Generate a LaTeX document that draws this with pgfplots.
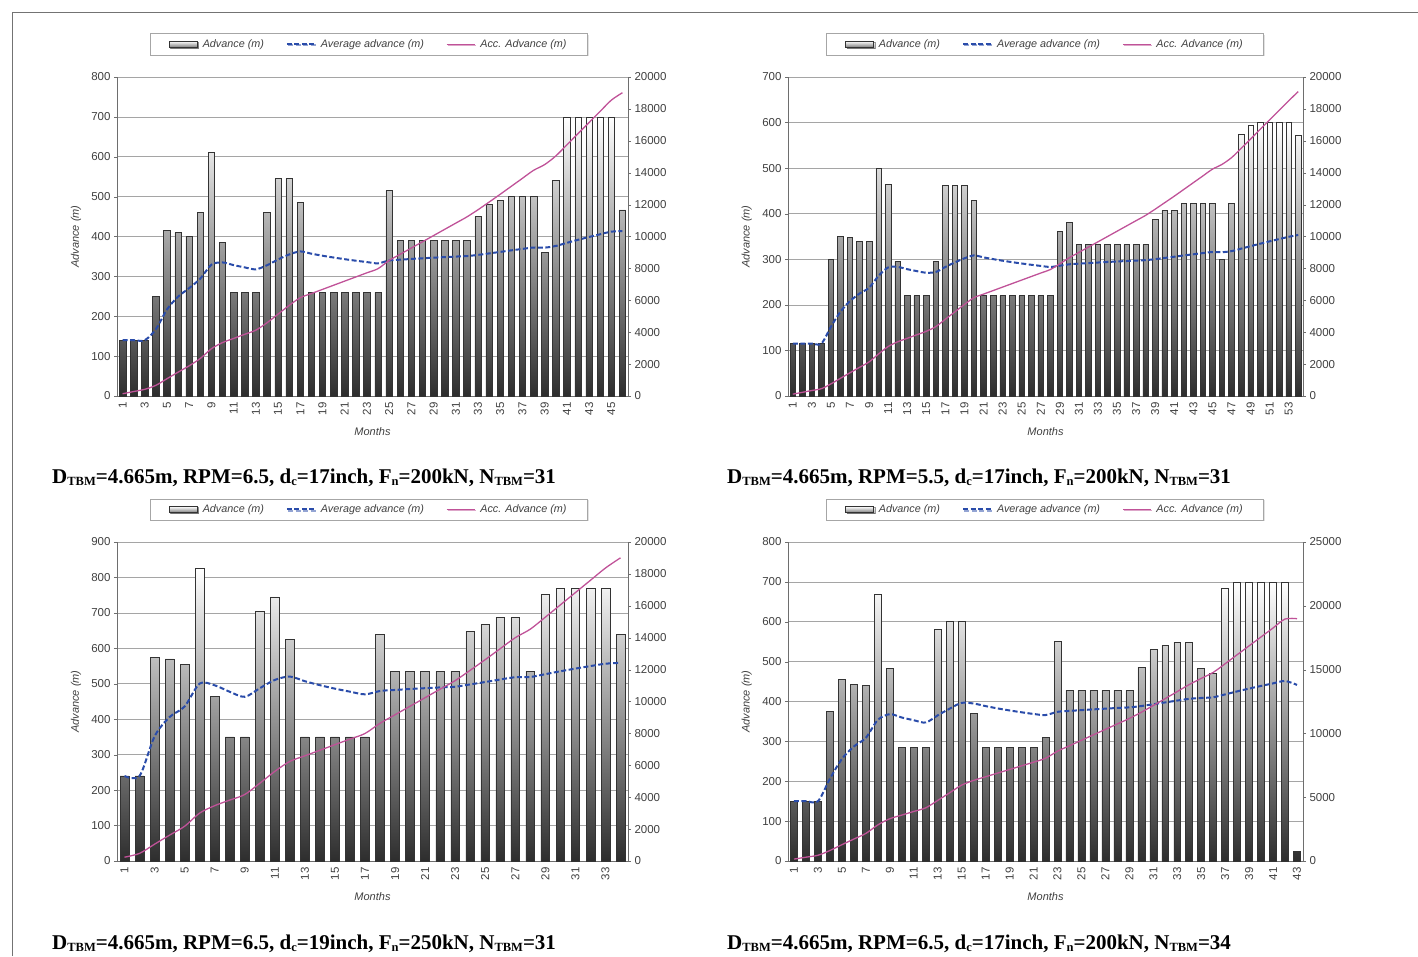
\documentclass[border=0pt]{standalone}
\usepackage{fontspec}
\setmainfont{Liberation Sans}
\newfontfamily\capserif{Liberation Serif}
\usepackage{pgfplots}
\pgfplotsset{compat=1.18}
\usepackage{pgfplotstable}
\usetikzlibrary{shadows}

\definecolor{avgblue}{RGB}{42,76,170}
\definecolor{accpink}{RGB}{192,82,152}
\definecolor{bardark}{RGB}{45,45,45}
\definecolor{gridgray}{RGB}{165,165,165}
\definecolor{axgray}{RGB}{110,110,110}

\newcommand{\sub}[1]{\raisebox{-0.3ex}{\fontsize{12.5}{12.5}\selectfont #1}}
\newcommand{\tickfont}{\fontsize{11.5}{13}\selectfont}

\pgfplotstableread{
m adv acc avg
1 140 140 140
2 140 280 140
3 140 420 140
4 250 670 167.5
5 415 1085 217
6 410 1495 249.2
7 400 1895 270.7
8 460 2355 294.4
9 610 2965 329.4
10 385 3350 335
11 260 3610 328.2
12 260 3870 322.5
13 260 4130 317.7
14 460 4590 327.9
15 545 5135 342.3
16 545 5680 355
17 485 6165 362.6
18 260 6425 356.9
19 260 6685 351.8
20 260 6945 347.3
21 260 7205 343.1
22 260 7465 339.3
23 260 7725 335.9
24 260 7985 332.7
25 515 8500 340
26 390 8890 341.9
27 390 9280 343.7
28 390 9670 345.4
29 390 10060 346.9
30 390 10450 348.3
31 390 10840 349.7
32 390 11230 350.9
33 450 11680 353.9
34 480 12160 357.6
35 490 12650 361.4
36 500 13150 365.3
37 500 13650 368.9
38 500 14150 372.4
39 360 14510 372.1
40 540 15050 376.3
41 700 15750 384.1
42 700 16450 391.7
43 700 17150 398.8
44 700 17850 405.7
45 700 18550 412.2
46 467 19017 413.4
}\tA

\pgfplotstableread{
m adv acc avg
1 115 115 115
2 115 230 115
3 115 345 115
4 115 460 115
5 300 760 152
6 350 1110 185
7 348 1458 208.3
8 340 1798 224.8
9 340 2138 237.6
10 500 2638 263.8
11 465 3103 282.1
12 295 3398 283.2
13 220 3618 278.3
14 220 3838 274.1
15 220 4058 270.5
16 295 4353 272.1
17 462 4815 283.2
18 462 5277 293.2
19 462 5739 302.1
20 430 6169 308.5
21 220 6389 304.2
22 220 6609 300.4
23 220 6829 296.9
24 220 7049 293.7
25 220 7269 290.8
26 220 7489 288.0
27 220 7709 285.5
28 220 7929 283.2
29 361 8290 285.9
30 381 8671 289.0
31 332 9003 290.4
32 332 9335 291.7
33 332 9667 292.9
34 332 9999 294.1
35 332 10331 295.2
36 332 10663 296.2
37 332 10995 297.2
38 332 11327 298.1
39 387 11714 300.4
40 407 12121 303.0
41 407 12528 305.6
42 423 12951 308.4
43 423 13374 311.0
44 423 13797 313.6
45 423 14220 316.0
46 299 14519 315.6
47 422 14941 317.9
48 575 15516 323.3
49 595 16111 328.8
50 600 16711 334.2
51 600 17311 339.4
52 600 17911 344.4
53 600 18511 349.3
54 573 19084 353.4
}\tB

\pgfplotstableread{
m adv acc avg
1 240 240 240
2 240 480 240
3 575 1055 351.7
4 570 1625 406.3
5 555 2180 436
6 825 3005 500.8
7 465 3470 495.7
8 350 3820 477.5
9 350 4170 463.3
10 705 4875 487.5
11 745 5620 510.9
12 625 6245 520.4
13 350 6595 507.3
14 350 6945 496.1
15 350 7295 486.3
16 350 7645 477.8
17 350 7995 470.3
18 640 8635 479.7
19 535 9170 482.6
20 535 9705 485.3
21 535 10240 487.6
22 535 10775 489.8
23 535 11310 491.7
24 648 11958 498.3
25 668 12626 505.0
26 688 13314 512.1
27 688 14002 518.6
28 535 14537 519.2
29 752 15289 527.2
30 770 16059 535.3
31 770 16829 542.9
32 770 17599 550.0
33 770 18369 556.6
34 640 19009 559.1
}\tC

\pgfplotstableread{
m adv acc avg
1 150 150 150
2 150 300 150
3 150 450 150
4 375 825 206.3
5 455 1280 256
6 443 1723 287.2
7 440 2163 309
8 668 2831 353.9
9 483 3314 368.2
10 285 3599 359.9
11 285 3884 353.1
12 285 4169 347.4
13 580 4749 365.3
14 600 5349 382.1
15 600 5949 396.6
16 370 6319 394.9
17 285 6604 388.5
18 285 6889 382.7
19 285 7174 377.6
20 285 7459 373.0
21 285 7744 368.8
22 310 8054 366.1
23 551 8605 374.1
24 428 9033 376.4
25 428 9461 378.4
26 428 9889 380.3
27 428 10317 382.1
28 428 10745 383.8
29 428 11173 385.3
30 486 11659 388.6
31 530 12189 393.2
32 541 12730 397.8
33 549 13279 402.4
34 549 13828 406.7
35 483 14311 408.9
36 470 14781 410.6
37 683 15464 417.9
38 700 16164 425.4
39 700 16864 432.4
40 700 17564 439.1
41 700 18264 445.5
42 700 18964 451.5
43 25 18989 441.6
}\tD

\pgfplotsset{
  leftpanel/.style={
    scale only axis, height=319pt,
    axis y line*=left, axis x line*=bottom,
    axis line style={axgray, line width=0.8pt},
    ymin=0, ytick distance=100,
    ymajorgrids, grid style={gridgray, line width=0.7pt},
    enlargelimits=false,
    tick align=outside, major tick length=3pt,
    ytick style={axgray}, xtick style={draw=none},
    tick label style={font=\tickfont, text=black!75},
    /pgf/number format/assume math mode=true,
    /pgf/number format/1000 sep={},
    xticklabel style={rotate=90, anchor=east},
    ylabel={Advance (m)}, xlabel={Months},
    label style={font=\fontsize{11}{13}\selectfont\itshape, text=black!75},
    ylabel style={at={(axis description cs:-0.08,0.5)}, anchor=center},
    xlabel style={at={(axis description cs:0.5,0)}, yshift=-36pt, anchor=center},
    legend columns=3,
    legend style={anchor=center, draw=gray!70, line width=0.6pt, fill=white,
      font=\fontsize{10.8}{12}\selectfont\itshape, text=black!75,
      inner xsep=19pt, inner ysep=4pt,
      /tikz/every odd column/.append style={column sep=3pt},
      /tikz/every even column/.append style={column sep=20pt},
      drop shadow={shadow xshift=1.2pt, shadow yshift=-1.2pt, fill=gray!45}},
    legend image code/.code={\draw[##1] (0pt,0pt) -- (28pt,0pt);},
  },
  rightpanel/.style={
    scale only axis, height=319pt,
    axis y line*=right, axis x line=none,
    axis line style={axgray, line width=0.8pt},
    ymin=0, enlargelimits=false, scaled y ticks=false,
    tick align=outside, major tick length=3pt, ytick style={axgray},
    tick label style={font=\tickfont, text=black!75},
    /pgf/number format/assume math mode=true,
    /pgf/number format/1000 sep={},
  },
  bars/.style={ybar, bar width=0.58, draw=black!80, line width=0.55pt,
    top color=white, bottom color=bardark,
    legend image code/.code={\draw[draw=black!80, line width=0.5pt, top color=white, bottom color=gray] (0pt,-3pt) rectangle (28pt,3pt);}},
  avgline/.style={avgblue, line width=2pt, dash pattern=on 5pt off 2.5pt, smooth},
  accline/.style={accpink, line width=1.3pt, smooth},
}

\begin{document}
\begin{tikzpicture}
\path[use as bounding box] (0pt,0pt) rectangle (1418pt,-956pt);
\draw[black!55, line width=0.8pt] (12pt,-956pt) -- (12pt,-12pt) -- (1418pt,-12pt);

% ---------- Panel 1 ----------
\begin{axis}[leftpanel, width=511pt, at={(117pt,-396pt)}, anchor=south west,
  xmin=0.5, xmax=46.5, ymax=800, xtick={1,3,...,45},
  legend style={at={(0.493,1.103)}}]
\addplot[bars] table[x=m,y=adv]{\tA}; \addlegendentry{Advance (m)}
\addplot[avgline] table[x=m,y=avg]{\tA}; \addlegendentry{Average advance (m)}
\addlegendimage{accline}\addlegendentry{Acc. Advance (m)}
\end{axis}
\begin{axis}[rightpanel, width=511pt, at={(117pt,-396pt)}, anchor=south west,
  xmin=0.5, xmax=46.5, ymax=20000, ytick distance=2000]
\addplot[accline] table[x=m,y=acc]{\tA};
\end{axis}

% ---------- Panel 2 ----------
\begin{axis}[leftpanel, width=515pt, at={(788pt,-396pt)}, anchor=south west,
  xmin=0.5, xmax=54.5, ymax=700, xtick={1,3,...,53},
  legend style={at={(0.499,1.103)}}]
\addplot[bars] table[x=m,y=adv]{\tB}; \addlegendentry{Advance (m)}
\addplot[avgline] table[x=m,y=avg]{\tB}; \addlegendentry{Average advance (m)}
\addlegendimage{accline}\addlegendentry{Acc. Advance (m)}
\end{axis}
\begin{axis}[rightpanel, width=515pt, at={(788pt,-396pt)}, anchor=south west,
  xmin=0.5, xmax=54.5, ymax=20000, ytick distance=2000]
\addplot[accline] table[x=m,y=acc]{\tB};
\end{axis}

% ---------- Panel 3 ----------
\begin{axis}[leftpanel, width=511pt, at={(117pt,-861pt)}, anchor=south west,
  xmin=0.5, xmax=34.5, ymax=900, xtick={1,3,...,33},
  legend style={at={(0.493,1.102)}}]
\addplot[bars] table[x=m,y=adv]{\tC}; \addlegendentry{Advance (m)}
\addplot[avgline] table[x=m,y=avg]{\tC}; \addlegendentry{Average advance (m)}
\addlegendimage{accline}\addlegendentry{Acc. Advance (m)}
\end{axis}
\begin{axis}[rightpanel, width=511pt, at={(117pt,-861pt)}, anchor=south west,
  xmin=0.5, xmax=34.5, ymax=20000, ytick distance=2000]
\addplot[accline] table[x=m,y=acc]{\tC};
\end{axis}

% ---------- Panel 4 ----------
\begin{axis}[leftpanel, width=515pt, at={(788pt,-861pt)}, anchor=south west,
  xmin=0.5, xmax=43.5, ymax=800, xtick={1,3,...,43},
  legend style={at={(0.499,1.102)}}]
\addplot[bars] table[x=m,y=adv]{\tD}; \addlegendentry{Advance (m)}
\addplot[avgline] table[x=m,y=avg]{\tD}; \addlegendentry{Average advance (m)}
\addlegendimage{accline}\addlegendentry{Acc. Advance (m)}
\end{axis}
\begin{axis}[rightpanel, width=515pt, at={(788pt,-861pt)}, anchor=south west,
  xmin=0.5, xmax=43.5, ymax=25000, ytick distance=5000]
\addplot[accline] table[x=m,y=acc]{\tD};
\end{axis}

% ---------- Captions ----------
\begin{scope}[every node/.style={anchor=base west, inner sep=0pt, font=\capserif\bfseries\fontsize{21}{23}\selectfont}]
\node at (52pt,-483pt) {D\sub{TBM}=4.665m, RPM=6.5, d\sub{c}=17inch, F\sub{n}=200kN, N\sub{TBM}=31};
\node at (727pt,-483pt) {D\sub{TBM}=4.665m, RPM=5.5, d\sub{c}=17inch, F\sub{n}=200kN, N\sub{TBM}=31};
\node at (52pt,-949pt) {D\sub{TBM}=4.665m, RPM=6.5, d\sub{c}=19inch, F\sub{n}=250kN, N\sub{TBM}=31};
\node at (727pt,-949pt) {D\sub{TBM}=4.665m, RPM=6.5, d\sub{c}=17inch, F\sub{n}=200kN, N\sub{TBM}=34};
\end{scope}
\end{tikzpicture}
\end{document}
